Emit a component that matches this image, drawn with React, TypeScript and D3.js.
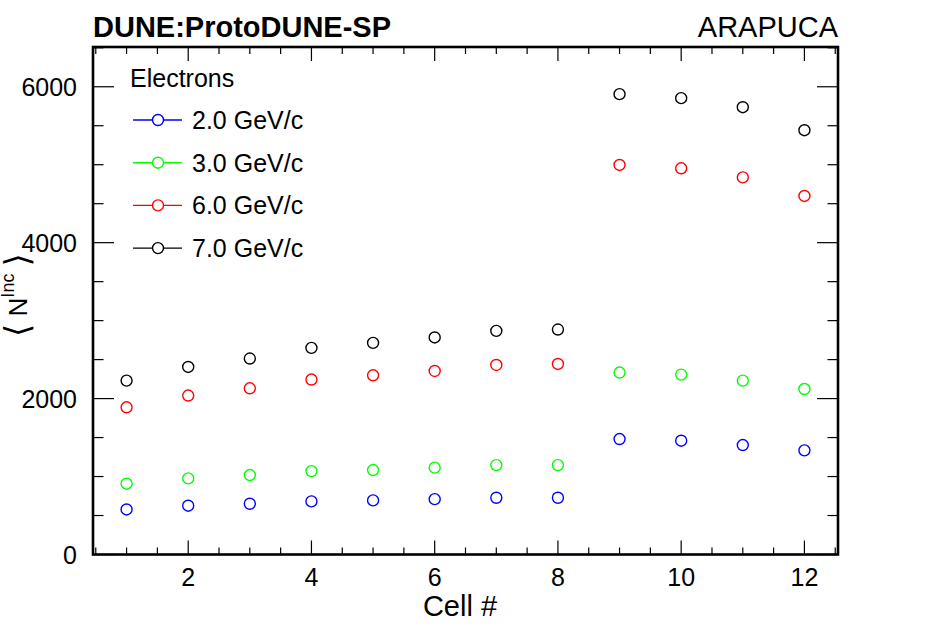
import React from "react";
import * as d3 from "d3";

// cell numbers on the x axis
const cells = [1, 2, 3, 4, 5, 6, 7, 8, 9, 10, 11, 12];

// <N^Inc> per cell, one array per beam momentum
const e2GeV = [578, 626, 651, 681, 694, 710, 728, 728, 1481, 1460, 1404, 1336];
const e3GeV = [908, 976, 1019, 1070, 1083, 1114, 1147, 1147, 2334, 2308, 2231, 2123];
const e6GeV = [1888, 2039, 2132, 2244, 2299, 2354, 2431, 2444, 4997, 4954, 4838, 4599];
const e7GeV = [2231, 2406, 2514, 2650, 2714, 2784, 2868, 2886, 5905, 5854, 5738, 5443];

const seriesLabels = ["2.0 GeV/c", "3.0 GeV/c", "6.0 GeV/c", "7.0 GeV/c"];
const seriesColors = ["#0000ff", "#00ff00", "#ff0000", "#000000"];
const seriesValues = [e2GeV, e3GeV, e6GeV, e7GeV];

const xMajorTicks = [2, 4, 6, 8, 10, 12];
const yMajorTicks = [0, 2000, 4000, 6000];

const W = 932;
const H = 634;
const left = 93;
const right = 838;
const top = 47;
const bottom = 554.5;
const font = "'Liberation Sans', Arial, Helvetica, sans-serif";

const App: React.FC = () => {
  const x = d3.scaleLinear().domain([0.455, 12.545]).range([left, right]);
  const y = d3.scaleLinear().domain([0, 6510]).range([bottom, top]);

  const xMinor = d3.range(0.5, 12.51, 0.5);
  const yMinor = d3.range(0, 6501, 500);

  const legendY = (i: number) => 120 + i * 42.7;

  return (
    <svg
      width={W}
      height={H}
      style={{ position: "absolute", left: 0, top: 0, background: "white" }}
      fontFamily={font}
    >
      <rect width={W} height={H} fill="white" />

      {/* ticks, drawn inward on all four sides */}
      <g stroke="black" strokeWidth={1.2}>
        {xMinor.map((t) => {
          const major = xMajorTicks.includes(t);
          const len = major ? 14 : 7;
          return (
            <g key={"xt" + t}>
              <line x1={x(t)} x2={x(t)} y1={bottom} y2={bottom - len} />
              <line x1={x(t)} x2={x(t)} y1={top} y2={top + len} />
            </g>
          );
        })}
        {yMinor.map((t) => {
          const major = yMajorTicks.includes(t);
          const len = major ? 21 : 10.5;
          return (
            <g key={"yt" + t}>
              <line x1={left} x2={left + len} y1={y(t)} y2={y(t)} />
              <line x1={right} x2={right - len} y1={y(t)} y2={y(t)} />
            </g>
          );
        })}
      </g>

      {/* frame */}
      <rect
        x={left}
        y={top}
        width={right - left}
        height={bottom - top}
        fill="none"
        stroke="black"
        strokeWidth={2.6}
      />

      {/* tick labels */}
      <g fontSize={25} fill="black">
        {xMajorTicks.map((t) => (
          <text key={"xl" + t} x={x(t)} y={586} textAnchor="middle">
            {t}
          </text>
        ))}
        {yMajorTicks.map((t) => (
          <text key={"yl" + t} x={77} y={y(t) + 9.5} textAnchor="end">
            {t}
          </text>
        ))}
      </g>

      {/* axis titles */}
      <text x={460} y={616} textAnchor="middle" fontSize={29}>
        Cell #
      </text>
      <text
        transform="translate(27, 295) rotate(-90)"
        textAnchor="middle"
        fontSize={26}
      >
        <tspan fontSize={34} fontFamily="'DejaVu Sans'" dy={2}>⟨</tspan>
        <tspan dy={-2}> N</tspan>
        <tspan dy={-13} fontSize={18}>
          Inc
        </tspan>
        <tspan dy={13}> </tspan>
        <tspan fontSize={34} fontFamily="'DejaVu Sans'" dy={2}>⟩</tspan>
      </text>

      {/* header */}
      <text x={left} y={37} fontSize={29} fontWeight="bold">
        DUNE:ProtoDUNE-SP
      </text>
      <text x={right} y={37} fontSize={29} textAnchor="end">
        ARAPUCA
      </text>

      {/* markers */}
      {seriesValues.map((vals, si) => (
        <g key={"s" + si} fill="none" stroke={seriesColors[si]} strokeWidth={1.4}>
          {vals.map((v, i) => (
            <circle key={i} cx={x(cells[i])} cy={y(v)} r={5.5} />
          ))}
        </g>
      ))}

      {/* legend */}
      <text x={130} y={87} fontSize={25}>
        Electrons
      </text>
      {seriesLabels.map((lab, i) => (
        <g key={"lg" + i}>
          <line
            x1={133}
            x2={182}
            y1={legendY(i)}
            y2={legendY(i)}
            stroke={seriesColors[i]}
            strokeWidth={1.4}
          />
          <circle
            cx={158}
            cy={legendY(i)}
            r={5.5}
            fill="white"
            stroke={seriesColors[i]}
            strokeWidth={1.4}
          />
          <text x={192} y={legendY(i) + 9} fontSize={25}>
            {lab}
          </text>
        </g>
      ))}
    </svg>
  );
};

export default App;
